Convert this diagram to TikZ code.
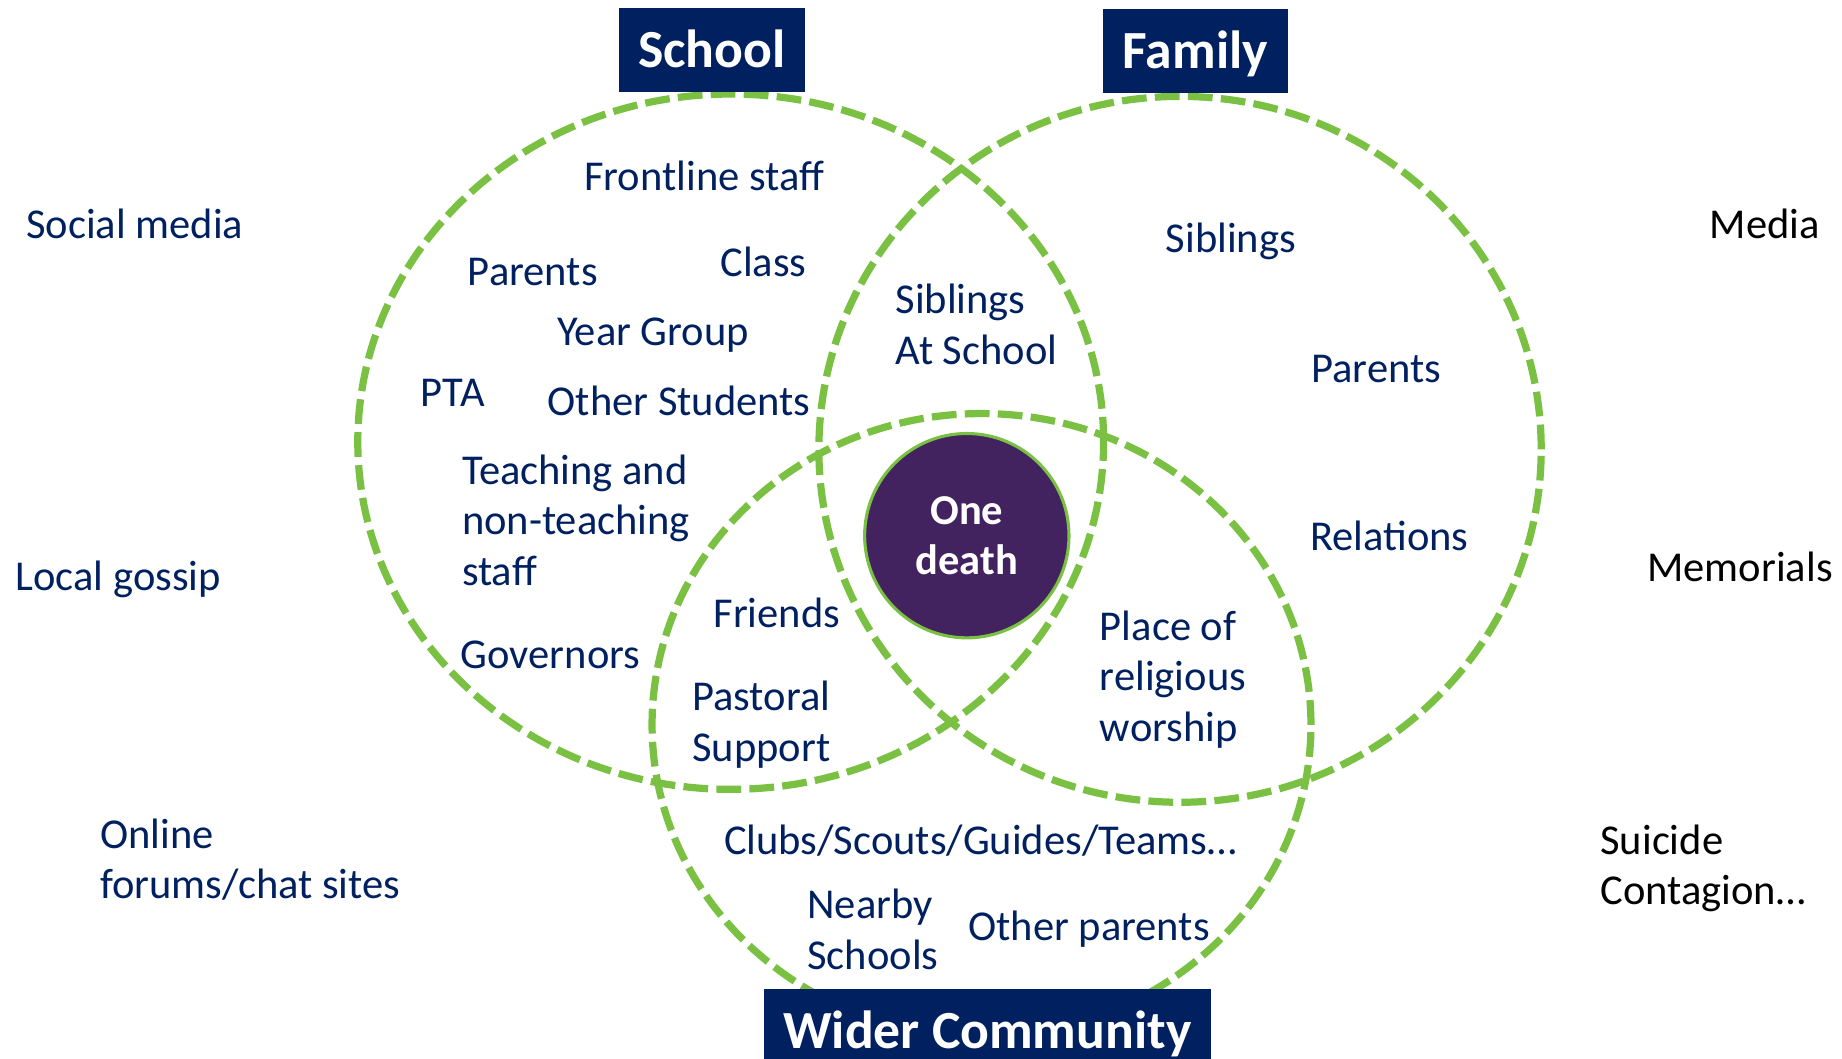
\documentclass[tikz,border=0pt]{standalone}
\usepackage{fontspec}
\setmainfont{Carlito}
\usetikzlibrary{shapes.geometric}
\definecolor{navy}{HTML}{002060}
\definecolor{vgreen}{HTML}{7AC143}
\definecolor{deathpurple}{HTML}{43235F}
\begin{document}
\begin{tikzpicture}[x=0.02cm, y=-0.02cm,
  ring/.style={ellipse, draw=vgreen, line width=3.5pt, dash pattern=on 12pt off 4pt, inner sep=0pt},
  lbl/.style={anchor=base west, inner sep=0pt, text=navy, align=left, font=\fontsize{20.6}{24.4}\selectfont},
  lblblack/.style={lbl, text=black},
  head/.style={fill=navy, text=white, font=\fontsize{26}{31}\selectfont\bfseries, inner sep=0pt, text height=21pt, text depth=4pt, minimum height=1.42cm}
]
\useasboundingbox (0,0) rectangle (1568,901);
\clip (0,0) rectangle (1568,901);

% circles
\node[ring, minimum width=12.7cm, minimum height=11.84cm] (school) at (622,376) {};
\node[ring, minimum width=12.3cm, minimum height=12.02cm] (family) at (1004.5,382.5) {};
\node[ring, minimum width=11.22cm, minimum height=10.6cm] (wider) at (835.5,617) {};

% centre
\node[circle, fill=deathpurple, draw=vgreen, line width=1.5pt, minimum size=3.48cm, inner sep=0pt,
      text=white, align=center, font=\fontsize{20.6}{24.4}\selectfont\bfseries] (death) at (823,456) {One\\death};

% headings
\node[head, minimum width=3.16cm] (schoolhead) at (606,42.5) {School};
\node[head, minimum width=3.14cm] (familyhead) at (1017.5,43.5) {Family};
\node[head, minimum width=7.62cm] (widerhead) at (840.5,877.5) {Wider Community};

% school (anchor: baseline of the last line)
\node[lbl] (frontline) at (497,162) {Frontline staff};
\node[lbl] (sparents) at (398,243) {Parents};
\node[lbl] (class) at (613,235) {Class};
\node[lbl] (year) at (474,294) {Year Group};
\node[lbl] (pta) at (358,346) {PTA};
\node[lbl] (otherst) at (466,354) {Other Students};
\node[lbl] (teaching) at (393,498) {Teaching and\\non-teaching\\staff};
\node[lbl] (governors) at (392,569) {Governors};
\node[lbl] (friends) at (607,534) {Friends};
\node[lbl] (pastoral) at (589,648) {Pastoral\\Support};
\node[lbl] (sibschool) at (762,310) {Siblings\\At School};

% family
\node[lbl] (siblings) at (992,215) {Siblings};
\node[lbl] (fparents) at (1116,326) {Parents};
\node[lbl] (relations) at (1115,469) {Relations};
\node[lbl] (worship) at (936,631) {Place of\\religious\\worship};

% wider
\node[lbl] (clubs) at (616,727) {Clubs/Scouts/Guides/Teams…};
\node[lbl] (nearby) at (687,825) {Nearby\\Schools};
\node[lbl] (oparents) at (824,801) {Other parents};

% outside left
\node[lbl] (social) at (22,203) {Social media};
\node[lbl] (gossip) at (13,503) {Local gossip};
\node[lbl] (online) at (85,765) {Online\\forums/chat sites};

% outside right
\node[lblblack] (media) at (1455,203) {Media};
\node[lblblack] (memorials) at (1402,495) {Memorials};
\node[lblblack] (suicide) at (1362,770) {Suicide\\Contagion…};
\end{tikzpicture}
\end{document}
